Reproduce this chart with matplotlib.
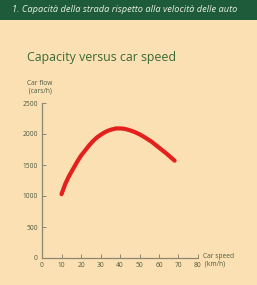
import matplotlib.pyplot as plt
import numpy as np

# data
speed = [10, 12, 14, 16, 18, 20, 22, 24, 26, 28, 30, 32, 34, 36, 38, 40,
         42, 44, 46, 48, 50, 52, 54, 56, 58, 60, 62, 64, 66, 68]
flow = [1030, 1200, 1330, 1440, 1550, 1650, 1730, 1810, 1880, 1940, 1985, 2025,
        2055, 2075, 2090, 2090, 2085, 2070, 2050, 2025, 1995, 1960, 1920, 1880,
        1830, 1780, 1730, 1680, 1625, 1570]
xticks = [0, 10, 20, 30, 40, 50, 60, 70, 80]
yticks = [0, 500, 1000, 1500, 2000, 2500]

bg = '#fbe0b3'
axcol = '#8c8770'
txtcol = '#4d5a40'

fig = plt.figure(figsize=(2.57, 2.85), dpi=100, facecolor=bg)

# green header band
fig.patches.append(plt.Rectangle((0, 1 - 20/285), 1, 20/285, transform=fig.transFigure,
                                 facecolor='#1d5b3b', edgecolor='none'))
fig.text(12/257, 1 - 10/285, '1. Capacità della strada rispetto alla velocità delle auto',
         color='#e8f0e0', fontsize=6.7, style='italic', va='center', family='Open Sans')

fig.text(27/257, 1 - 57/285, 'Capacity versus car speed', color='#3a6a35', fontsize=8.9,
         va='center', family='Open Sans', weight='medium')

ax = fig.add_axes([42/257, 27/285, 156/257, 155/285])
ax.set_facecolor(bg)
ax.plot(speed, flow, color='#e3201b', lw=3, solid_capstyle='round', solid_joinstyle='round')
ax.set_xlim(0, 80)
ax.set_ylim(0, 2500)
ax.set_xticks(xticks)
ax.set_yticks(yticks)
for s in ['top', 'right']:
    ax.spines[s].set_visible(False)
for s in ['left', 'bottom']:
    ax.spines[s].set_color(axcol)
    ax.spines[s].set_linewidth(0.9)
ax.tick_params(direction='in', length=3, width=0.7, color=axcol, labelsize=4.8,
               labelcolor=txtcol, pad=3)
for lab in ax.get_xticklabels() + ax.get_yticklabels():
    lab.set_family('Open Sans')

fig.text(27/257, 1 - 87/285, 'Car flow\n (cars/h)', color=txtcol, fontsize=4.8,
         va='center', family='Open Sans', linespacing=1.1)
fig.text(203/257, 1 - 260/285, 'Car speed\n (km/h)', color=txtcol, fontsize=4.8,
         va='center', family='Open Sans', linespacing=1.1)

fig.savefig('out.png', dpi=100, facecolor=bg)
